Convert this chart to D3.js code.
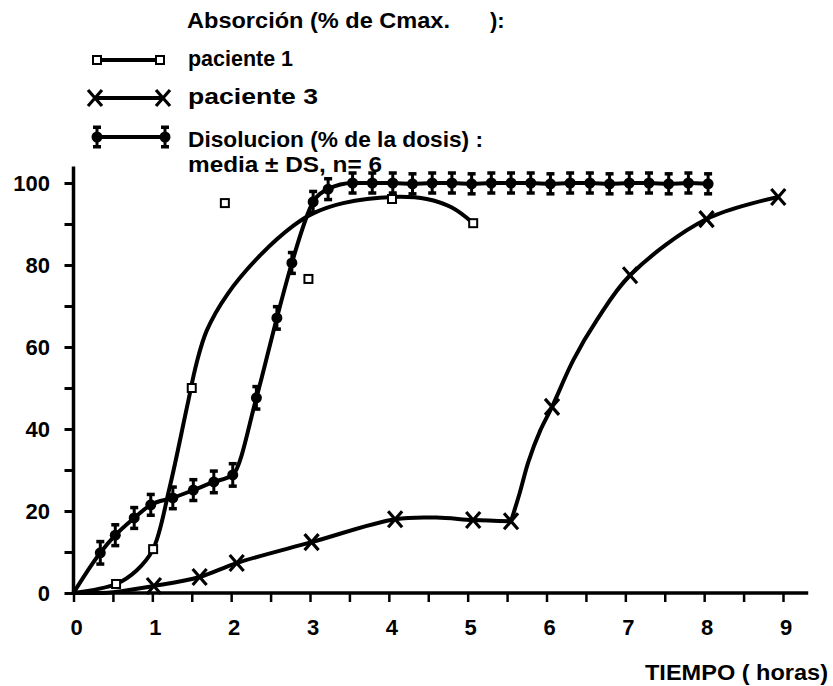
<!DOCTYPE html>
<html>
<head>
<meta charset="utf-8">
<script src="https://cdn.jsdelivr.net/npm/d3@7"></script>
<style>
  html, body { margin: 0; padding: 0; background: #fff; }
  svg { display: block; }
  text { font-family: "Liberation Sans", Arial, sans-serif; font-weight: bold; fill: #000; }
</style>
</head>
<body>
<svg id="chart" width="833" height="686"></svg>
<script>
// Tick labels
const xTickLabels = ["0", "1", "2", "3", "4", "5", "6", "7", "8", "9"];
const yTickLabels = [0, 20, 40, 60, 80, 100];

// Dissolution (% of dose), mean ± SD, n = 6
const dissolTime = [0, 0.34, 0.53, 0.77, 0.98, 1.26, 1.52, 1.78, 2.02, 2.32, 2.58, 2.77, 3.04, 3.23,
                    3.54, 3.79, 4.05, 4.3, 4.55, 4.8, 5.05, 5.3, 5.55, 5.8, 6.05, 6.3, 6.55, 6.8,
                    7.05, 7.3, 7.55, 7.8, 8.05];
const dissolMean = [0, 9.8, 14.1, 18.3, 21.5, 23.2, 25.1, 27.1, 28.8, 47.6, 67.1, 80.5, 95.4, 98.5,
                    100, 100, 100, 99.8, 100, 100, 99.8, 100, 100, 100, 99.8, 100, 100, 99.8,
                    100, 100, 99.8, 100, 99.8];
const dissolSD   = [0, 2.8, 2.6, 2.6, 2.6, 2.7, 2.6, 2.7, 2.8, 2.8, 2.8, 2.6, 2.6, 2.6,
                    2.5, 2.5, 2.5, 2.5, 2.5, 2.5, 2.5, 2.5, 2.5, 2.5, 2.5, 2.5, 2.5, 2.5,
                    2.5, 2.5, 2.5, 2.5, 2.5];

// Absorption, patient 1 (% of Cmax): observed points and fitted curve
const p1Time = [0.54, 1.01, 1.5, 1.92, 2.98, 4.04, 5.07];
const p1Abs  = [2.2, 10.7, 50, 95.1, 76.6, 96.1, 90.2];
const p1FitTime = [0, 0.54, 0.8, 1.01, 1.22, 1.44, 1.56, 1.69, 1.95, 2.37, 2.79, 3.04, 3.42, 4.05, 4.48, 4.8, 5.07];
const p1FitAbs  = [0, 2.2, 5.5, 10.7, 25.8, 45.4, 56, 64, 72.8, 82.4, 89.6, 92.6, 95.1, 96.6, 96.1, 94, 90.2];

// Absorption, patient 3 (% of Cmax): observed points and fitted curve (lag phase, then rise)
const p3Time = [1.02, 1.6, 2.07, 3.02, 4.08, 5.07, 5.55, 6.07, 7.06, 8.03, 8.94];
const p3Abs  = [1.7, 3.9, 7.3, 12.4, 18, 17.8, 17.5, 45.4, 77.5, 91.2, 96.6];
const p3FitTimeA = [0, 0.5, 1.02, 1.6, 2.07, 3.02, 4.08, 4.6, 5.07, 5.55];
const p3FitAbsA  = [0, 0.2, 1.7, 3.9, 7.3, 12.4, 18, 18.4, 17.8, 17.5];
const p3FitTimeB = [5.55, 5.66, 5.77, 5.92, 6.07, 6.34, 6.64, 7.06, 8.03, 8.94];
const p3FitAbsB  = [17.5, 24.4, 32.0, 39.6, 45.4, 56.8, 66.6, 77.5, 91.2, 96.6];

// Legend texts
const legendTitle = "Absorción (% de Cmax.";
const legendTitleEnd = "):";
const legendP1 = "paciente 1";
const legendP3 = "paciente 3";
const legendDis1 = "Disolucion (% de la dosis) :";
const legendDis2 = "media ± DS, n= 6";
const xAxisTitle = "TIEMPO ( horas)";

const svg = d3.select("#chart");

const x = d3.scaleLinear().domain([0, 9]).range([73.5, 783]);
const y = d3.scaleLinear().domain([0, 100]).range([593, 183]);

const lineW = 4;

// ---- Axes ----
const gx = svg.append("g").attr("transform", `translate(0,${y(0)})`)
  .call(d3.axisBottom(x).tickValues(d3.range(0, 9.01, 0.5)).tickSize(9).tickSizeOuter(0).tickFormat(""));
gx.select(".domain").remove();
gx.selectAll(".tick line").attr("stroke", "#000").attr("stroke-width", 2.5);

const gy = svg.append("g").attr("transform", `translate(${x(0)},0)`)
  .call(d3.axisLeft(y).tickValues(d3.range(0, 101, 10)).tickSize(9).tickSizeOuter(0).tickFormat(""));
gy.select(".domain").remove();
gy.selectAll(".tick line").attr("stroke", "#000").attr("stroke-width", 3);

// axis lines
svg.append("line").attr("x1", x(0) - 1).attr("x2", x(9.32)).attr("y1", y(0)).attr("y2", y(0))
  .attr("stroke", "#000").attr("stroke-width", 3.5);
svg.append("line").attr("x1", x(0)).attr("x2", x(0)).attr("y1", y(0) + 1).attr("y2", y(104))
  .attr("stroke", "#000").attr("stroke-width", 3.5);

// tick labels
svg.append("g").selectAll("text").data(xTickLabels).join("text")
  .attr("x", (d, i) => x(i) + 3).attr("y", 635)
  .attr("text-anchor", "middle").attr("font-size", 22).text(d => d);

svg.append("g").selectAll("text").data(yTickLabels).join("text")
  .attr("x", 50).attr("y", d => y(d)).attr("dy", "0.36em")
  .attr("text-anchor", "end").attr("font-size", 22).text(d => d);

svg.append("text").attr("x", 645).attr("y", 680).attr("font-size", 22)
  .attr("textLength", 183).attr("lengthAdjust", "spacingAndGlyphs").text(xAxisTitle);

// ---- Marker painters ----
function squareMark(g, cx, cy) {
  g.append("rect").attr("x", cx - 4).attr("y", cy - 4).attr("width", 8).attr("height", 8)
    .attr("fill", "#fff").attr("stroke", "#000").attr("stroke-width", 2);
}
function crossMark(g, cx, cy) {
  const a = 7, b = 8;
  g.append("path").attr("d", `M${cx - a},${cy - b}L${cx + a},${cy + b}M${cx + a},${cy - b}L${cx - a},${cy + b}`)
    .attr("stroke", "#000").attr("stroke-width", 3.2).attr("fill", "none");
}
function dissolMark(g, cx, cy, hi, lo) {
  g.append("line").attr("x1", cx).attr("x2", cx).attr("y1", hi).attr("y2", lo)
    .attr("stroke", "#000").attr("stroke-width", 3);
  g.append("rect").attr("x", cx - 4).attr("y", hi - 1.5).attr("width", 8).attr("height", 3.5).attr("fill", "#000");
  g.append("rect").attr("x", cx - 4).attr("y", lo - 2).attr("width", 8).attr("height", 3.5).attr("fill", "#000");
  g.append("circle").attr("cx", cx).attr("cy", cy).attr("r", 5.5).attr("fill", "#000");
}

const lineMono = d3.line().x(d => x(d[0])).y(d => y(d[1])).curve(d3.curveMonotoneX);
const lineSmooth = d3.line().x(d => x(d[0])).y(d => y(d[1])).curve(d3.curveCatmullRom.alpha(0.5));

// ---- Dissolution ----
const dis = dissolTime.map((t, i) => [t, dissolMean[i], dissolSD[i]]);
svg.append("path").datum(dis).attr("d", lineMono)
  .attr("fill", "none").attr("stroke", "#000").attr("stroke-width", lineW).attr("stroke-linejoin", "round");
const gDis = svg.append("g");
dis.slice(1).forEach(d => dissolMark(gDis, x(d[0]), y(d[1]), y(d[1] + d[2]), y(d[1] - d[2])));

// ---- Patient 1 ----
const p1Fit = p1FitTime.map((t, i) => [t, p1FitAbs[i]]);
svg.append("path").datum(p1Fit).attr("d", lineSmooth)
  .attr("fill", "none").attr("stroke", "#000").attr("stroke-width", lineW).attr("stroke-linecap", "round");
const gP1 = svg.append("g");
p1Time.forEach((t, i) => squareMark(gP1, x(t), y(p1Abs[i])));

// ---- Patient 3 ----
[[p3FitTimeA, p3FitAbsA], [p3FitTimeB, p3FitAbsB]].forEach(([ts, vs]) => {
  svg.append("path").datum(ts.map((t, i) => [t, vs[i]])).attr("d", lineSmooth)
    .attr("fill", "none").attr("stroke", "#000").attr("stroke-width", lineW).attr("stroke-linecap", "round");
});
const gP3 = svg.append("g");
p3Time.forEach((t, i) => crossMark(gP3, x(t), y(p3Abs[i])));

// ---- Legend ----
const lg = svg.append("g");
lg.append("text").attr("x", 187).attr("y", 28).attr("font-size", 22)
  .attr("textLength", 263).attr("lengthAdjust", "spacingAndGlyphs").text(legendTitle);
lg.append("text").attr("x", 490).attr("y", 28).attr("font-size", 22).text(legendTitleEnd);

lg.append("line").attr("x1", 97).attr("x2", 160).attr("y1", 60).attr("y2", 60)
  .attr("stroke", "#000").attr("stroke-width", lineW);
squareMark(lg, 97, 60); squareMark(lg, 160, 60);
lg.append("text").attr("x", 188).attr("y", 66).attr("font-size", 22)
  .attr("textLength", 105).attr("lengthAdjust", "spacingAndGlyphs").text(legendP1);

lg.append("line").attr("x1", 95).attr("x2", 163).attr("y1", 98).attr("y2", 98)
  .attr("stroke", "#000").attr("stroke-width", lineW);
crossMark(lg, 95, 98); crossMark(lg, 163, 98);
lg.append("text").attr("x", 188).attr("y", 104).attr("font-size", 22)
  .attr("textLength", 130).attr("lengthAdjust", "spacingAndGlyphs").text(legendP3);

lg.append("line").attr("x1", 97).attr("x2", 165).attr("y1", 137).attr("y2", 137)
  .attr("stroke", "#000").attr("stroke-width", lineW);
dissolMark(lg, 97, 137, 127, 147); dissolMark(lg, 165, 137, 127, 147);
lg.append("text").attr("x", 188).attr("y", 147).attr("font-size", 22)
  .attr("textLength", 295).attr("lengthAdjust", "spacingAndGlyphs").text(legendDis1);
lg.append("text").attr("x", 188).attr("y", 172).attr("font-size", 22)
  .attr("textLength", 194).attr("lengthAdjust", "spacingAndGlyphs").text(legendDis2);
</script>
</body>
</html>
